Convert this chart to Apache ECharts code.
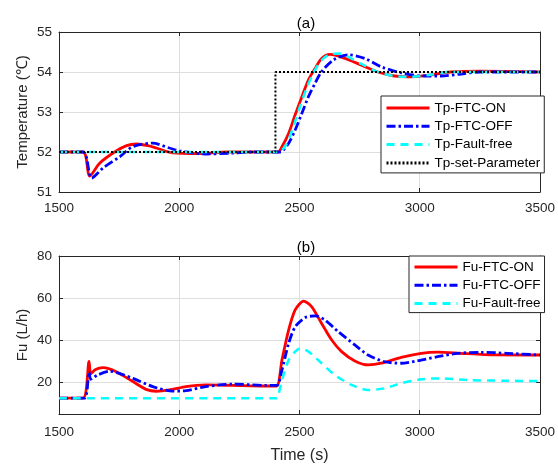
<!DOCTYPE html>
<html><head><meta charset="utf-8">
<script src="https://cdn.jsdelivr.net/npm/echarts@6/dist/echarts.min.js"></script>
<style>html,body{margin:0;padding:0;background:#fff}#c{width:558px;height:466px}</style>
</head><body><div id="c"></div>
<script>
// ---- Data ----
const xTicks = [1500, 2000, 2500, 3000, 3500];
const tempTicks = [51, 52, 53, 54, 55];
const fuTicks = [20, 40, 60, 80];

const tpOnT = [1500,1600,1628,1669,1731,1781,1822,1870,1905,1971,2083,2200,2410,2427,2455,2482,2510,2537,2565,2592,2627,2689,2758,2826,2895,2950,3033,3128,3250,3500];
const tpOnV = [52,52,51.4,51.72,52.0,52.16,52.2,52.16,52.1,51.98,51.96,52.0,52.0,52.13,52.47,52.93,53.38,53.8,54.09,54.34,54.44,54.34,54.17,54.0,53.9,53.88,53.92,54.0,54.02,54.0];

const tpOffT = [1500,1600,1636,1683,1752,1806,1888,1959,2000,2111,2219,2302,2420,2427,2455,2482,2510,2537,2565,2592,2641,2703,2771,2840,2923,3019,3088,3171,3252,3500];
const tpOffV = [52,52,51.35,51.6,51.88,52.13,52.22,52.1,52.03,51.95,51.97,52.0,52.0,52.01,52.22,52.55,52.97,53.38,53.72,54.01,54.3,54.43,54.34,54.13,53.98,53.9,53.9,53.95,54.0,54.0];

const tpFreeT = [1500,2400,2413,2441,2470,2500,2530,2560,2592,2627,2669,2703,2758,2826,2895,2950,3033,3128,3500];
const tpFreeV = [52,52,52.0,52.15,52.55,53.1,53.6,54.0,54.3,54.44,54.46,54.38,54.2,54.0,53.9,53.88,53.92,54.0,54.0];

const tpSetT = [1500,2400,2400,3500];
const tpSetV = [52,52,54,54];

const fuOnT = [1500,1600,1625,1632,1650,1683,1738,1807,1862,1904,1959,2028,2110,2220,2358,2405,2427,2455,2482,2517,2551,2592,2634,2675,2730,2785,2840,2923,3006,3074,3171,3267,3500];
const fuOnV = [12.5,12.5,30,24,26,27,25.1,20.4,16.7,15.8,16.4,18,18.8,18.6,18.3,18.3,30.6,44.9,54.4,58.6,55.9,48,40.1,34.6,30.2,28.3,29.1,31.9,33.8,34.4,33.8,33.2,33];

const fuOffT = [1500,1605,1625,1632,1660,1711,1807,1890,1972,2028,2110,2220,2358,2406,2427,2455,2482,2524,2565,2606,2661,2730,2785,2854,2923,2992,3074,3157,3253,3364,3500];
const fuOffV = [12.5,12.5,25,21.5,23.5,25.3,21.9,18,15.9,16.1,18,19.2,18.6,18.6,25.9,38.6,46.4,50.8,51.6,49.6,44.1,37.8,33,29.8,29.1,30.3,32.2,33.8,34.3,33.8,33];

const fuFreeT = [1500,2400,2406,2427,2455,2482,2503,2537,2592,2647,2716,2785,2854,2923,3006,3088,3198,3350,3500];
const fuFreeV = [12.5,12.5,12.5,21.1,30.6,34.6,36.2,34.6,29.1,23.5,18.8,16.4,17.2,19.6,21.5,21.9,21.1,20.8,20.6];

// ---- Chart ----
const FONT = '"Liberation Sans", Arial, Helvetica, sans-serif';
const AX = '#262626';
const GRIDC = '#dedede';
function pairs(t, v) { return t.map((x, i) => [x, v[i]]); }

const chart = echarts.init(document.getElementById('c'), null, {renderer: 'canvas'});

function xAxisFor(gi, pos, labels, name) {
  return {
    type: 'value', gridIndex: gi, position: pos, min: 1500, max: 3500, interval: 500,
    axisLine: {show: true, onZero: false, lineStyle: {color: AX, width: 1}},
    axisTick: {show: true, inside: true, length: 4, lineStyle: {color: AX}},
    axisLabel: {show: labels, color: AX, fontFamily: FONT, fontSize: 13.5, margin: gi === 0 ? 9 : 11,
      customValues: xTicks, formatter: v => String(v)},
    splitLine: {show: labels, lineStyle: {color: GRIDC, width: 1}},
    name: name || '', nameLocation: 'middle', nameGap: 34,
    nameTextStyle: {color: AX, fontFamily: FONT, fontSize: 16}
  };
}
function yAxisFor(gi, pos, labels, min, max, ticks, name) {
  return {
    type: 'value', gridIndex: gi, position: pos, min: min, max: max,
    axisLine: {show: true, onZero: false, lineStyle: {color: AX, width: 1}},
    axisTick: {show: true, inside: true, length: 4, lineStyle: {color: AX}, customValues: ticks},
    axisLabel: {show: labels, color: AX, fontFamily: FONT, fontSize: 13.5, margin: 7, customValues: ticks,
      formatter: v => String(v)},
    splitLine: {show: labels, lineStyle: {color: GRIDC, width: 1}},
    name: name || '', nameLocation: 'middle', nameGap: 29, nameRotate: 90, nameMoveOverlap: false,
    nameTextStyle: {color: AX, fontFamily: FONT, fontSize: 15}
  };
}

const RED = {color: '#ff0000', width: 2.8, type: 'solid'};
const BLUE = {color: '#0000ff', width: 2.8, type: [9, 3, 2.5, 3]};
const CYAN = {color: '#00ffff', width: 2.5, type: [8, 6]};
const BLACK = {color: '#000000', width: 2, type: [2, 2]};

function line(name, xi, data, ls, smooth) {
  return {
    name: name, type: 'line', xAxisIndex: xi, yAxisIndex: xi, data: data,
    showSymbol: false, symbol: 'none', smooth: smooth, lineStyle: ls, itemStyle: {color: ls.color},
    clip: true, silent: true
  };
}

const legendBase = {
  orient: 'vertical', itemWidth: 43, itemHeight: 14, itemGap: 4.3,
  borderColor: AX, borderWidth: 1, backgroundColor: '#ffffff',
  textStyle: {color: '#000', fontFamily: FONT, fontSize: 13.5, lineHeight: 14},
  itemStyle: {opacity: 0}, lineStyle: {width: 3}, selectedMode: false, align: 'left', z: 20
};

chart.setOption({
  animation: false,
  backgroundColor: '#ffffff',
  title: [
    {text: '(a)', left: 301, top: 11, textAlign: 'center',
      textStyle: {color: '#000', fontFamily: FONT, fontSize: 15, fontWeight: 'normal'}},
    {text: '(b)', left: 301, top: 235, textAlign: 'center',
      textStyle: {color: '#000', fontFamily: FONT, fontSize: 15, fontWeight: 'normal'}}
  ],
  grid: [
    {left: 59, top: 32, width: 484, height: 160, show: false},
    {left: 59, top: 256, width: 484, height: 158, show: false}
  ],
  xAxis: [
    xAxisFor(0, 'bottom', true),
    xAxisFor(1, 'bottom', true, 'Time (s)'),
    xAxisFor(0, 'top', false),
    xAxisFor(1, 'top', false)
  ],
  yAxis: [
    yAxisFor(0, 'left', true, 51, 55, tempTicks, 'Temperature (\u2103)'),
    yAxisFor(1, 'left', true, 5, 80, fuTicks, 'Fu (L/h)'),
    yAxisFor(0, 'right', false, 51, 55, tempTicks),
    yAxisFor(1, 'right', false, 5, 80, fuTicks)
  ],
  legend: [
    Object.assign({}, legendBase, {left: 381, top: 96, padding: [5, 4, 3, 4],
      data: ['Tp-FTC-ON', 'Tp-FTC-OFF', 'Tp-Fault-free', 'Tp-set-Parameter']}),
    Object.assign({}, legendBase, {left: 409, top: 256, padding: [4, 4, 2, 4],
      data: ['Fu-FTC-ON', 'Fu-FTC-OFF', 'Fu-Fault-free']})
  ],
  series: [
    line('Tp-FTC-ON', 0, pairs(tpOnT, tpOnV), RED, 0.3),
    line('Tp-FTC-OFF', 0, pairs(tpOffT, tpOffV), BLUE, 0.3),
    line('Tp-Fault-free', 0, pairs(tpFreeT, tpFreeV), CYAN, 0.3),
    line('Tp-set-Parameter', 0, pairs(tpSetT, tpSetV), BLACK, false),
    line('Fu-FTC-ON', 1, pairs(fuOnT, fuOnV), RED, 0.25),
    line('Fu-FTC-OFF', 1, pairs(fuOffT, fuOffV), BLUE, 0.25),
    line('Fu-Fault-free', 1, pairs(fuFreeT, fuFreeV), CYAN, 0.25)
  ]
});
</script></body></html>
